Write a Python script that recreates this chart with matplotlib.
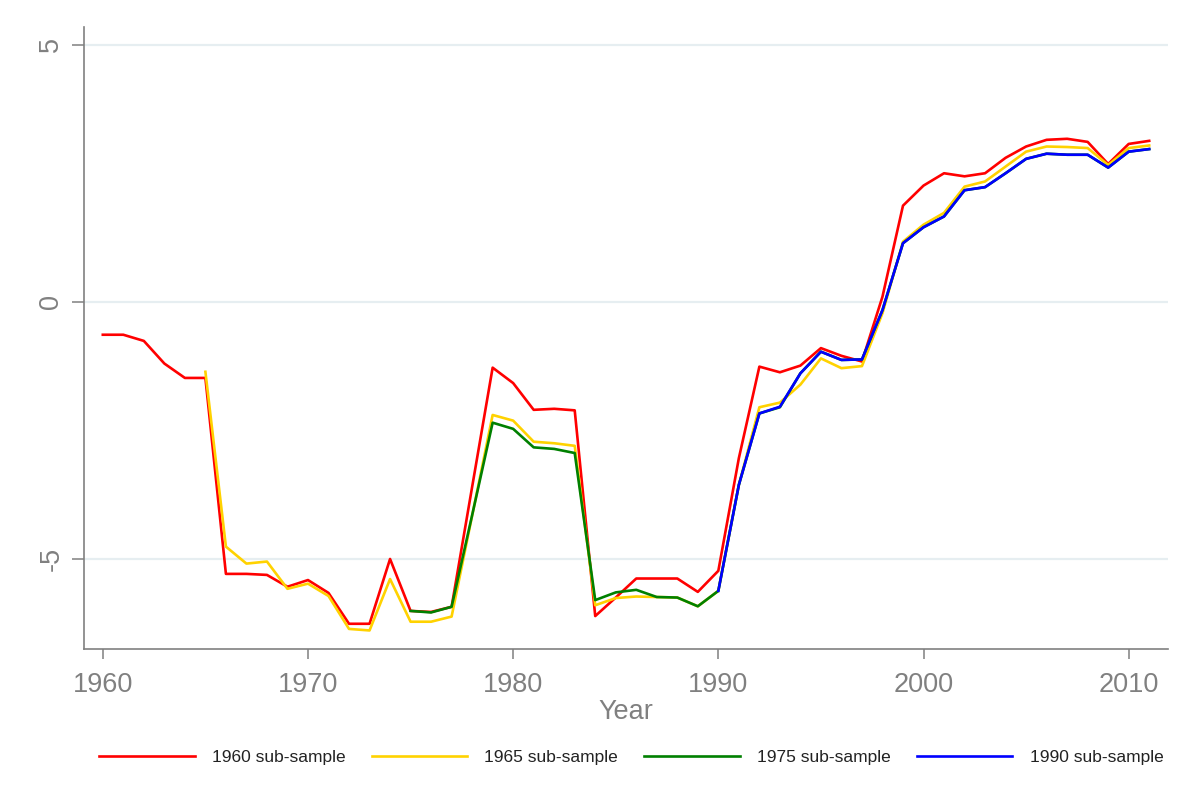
import numpy as np
import matplotlib
matplotlib.use("Agg")
import matplotlib.pyplot as plt

plt.rcParams['font.family'] = ['Liberation Sans', 'DejaVu Sans']

# data
years_1960 = np.arange(1960, 2012)
sub_1960 = [-0.64, -0.64, -0.76, -1.2, -1.48, -1.48, -5.29, -5.29, -5.31, -5.54,
            -5.41, -5.66, -6.26, -6.26, -5.0, -6.01, -6.03, -5.93, -3.6, -1.28,
            -1.58, -2.1, -2.08, -2.11, -6.11, -5.75, -5.38, -5.38, -5.38, -5.64,
            -5.23, -3.04, -1.26, -1.37, -1.24, -0.9, -1.05, -1.16, 0.1, 1.87,
            2.26, 2.5, 2.44, 2.5, 2.8, 3.02, 3.15, 3.17, 3.11, 2.68,
            3.07, 3.13]

years_1965 = np.arange(1965, 2012)
sub_1965 = [-1.36, -4.76, -5.09, -5.05, -5.58,
            -5.48, -5.72, -6.36, -6.39, -5.39, -6.22, -6.22, -6.12, -4.16, -2.2,
            -2.31, -2.72, -2.75, -2.8, -5.9, -5.76, -5.73, -5.74, -5.75, -5.92,
            -5.62, -3.56, -2.05, -1.96, -1.61, -1.1, -1.29, -1.25, -0.22, 1.17,
            1.5, 1.73, 2.24, 2.34, 2.63, 2.92, 3.02, 3.01, 2.99, 2.66,
            2.99, 3.04]

years_1975 = np.arange(1975, 2012)
sub_1975 = [-6.01, -6.04, -5.93, -4.15, -2.35,
            -2.47, -2.83, -2.86, -2.94, -5.8, -5.65, -5.6, -5.74, -5.75, -5.92,
            -5.62, -3.56, -2.17, -2.05, -1.39, -0.97, -1.13, -1.12, -0.16, 1.14,
            1.45, 1.66, 2.17, 2.23, 2.5, 2.78, 2.88, 2.86, 2.86, 2.61,
            2.92, 2.97]

years_1990 = np.arange(1990, 2012)
sub_1990 = [-5.62, -3.56, -2.17, -2.04, -1.39, -0.97, -1.13, -1.12, -0.16, 1.14,
            1.45, 1.66, 2.17, 2.23, 2.5, 2.78, 2.88, 2.86, 2.86, 2.61,
            2.92, 2.97]

gray = '#808080'

fig = plt.figure(figsize=(11.91, 8.08), dpi=100)
ax = fig.add_axes([0.0703, 0.1972, 0.9108, 0.7694])

ax.plot(years_1960, sub_1960, color='#ff0000', lw=1.9, label='1960 sub-sample')
ax.plot(years_1965, sub_1965, color='#ffd200', lw=1.9, label='1965 sub-sample')
ax.plot(years_1975, sub_1975, color='#008000', lw=1.9, label='1975 sub-sample')
ax.plot(years_1990, sub_1990, color='#0000ff', lw=1.9, label='1990 sub-sample')

ax.set_xlim(1959.07, 2011.94)
ax.set_ylim(-6.744, 5.344)
ax.set_xticks([1960, 1970, 1980, 1990, 2000, 2010])
ax.set_yticks([-5, 0, 5])
ax.set_yticklabels(['-5', '0', '5'], rotation=90, va='center')

ax.grid(axis='y', color='#e6eef1', lw=1.6)
ax.set_axisbelow(True)
for s in ['top', 'right']:
    ax.spines[s].set_visible(False)
for s in ['left', 'bottom']:
    ax.spines[s].set_color(gray)
    ax.spines[s].set_linewidth(1.2)

ax.tick_params(axis='x', colors=gray, labelsize=19.5, length=7.5, width=1.1, pad=9)
ax.tick_params(axis='y', colors=gray, labelsize=19.5, length=9, width=1.1, pad=5)
ax.set_xlabel('Year', color=gray, fontsize=19.5, labelpad=1)

fig.legend(loc='center', bbox_to_anchor=(0.530, 0.063), ncol=4, frameon=False,
           fontsize=12.5, handlelength=5.5, handletextpad=1.0, columnspacing=1.5,
           labelcolor='#222222')

fig.savefig('out.png', dpi=100)
